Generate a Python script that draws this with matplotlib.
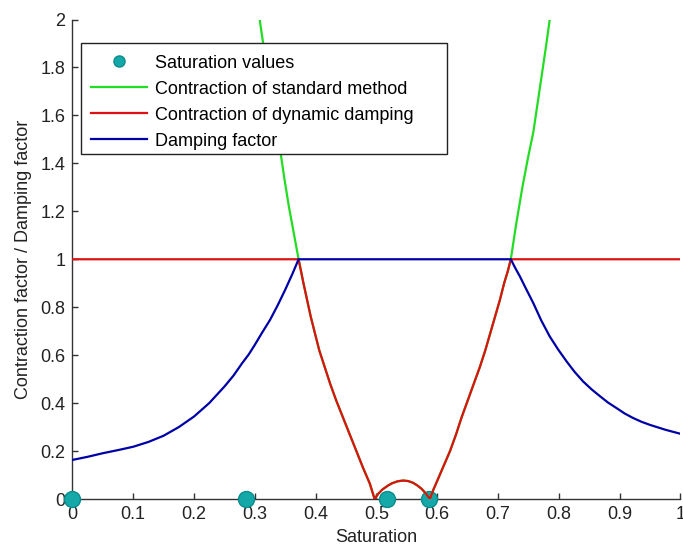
import matplotlib
matplotlib.use("Agg")
import matplotlib.pyplot as plt
from matplotlib.lines import Line2D
from matplotlib.patches import Rectangle

# Saturation sample points (markers)
sat_values = [0.0, 0.285, 0.518, 0.587]
sat_zero = [0.0, 0.0, 0.0, 0.0]

# Contraction of dynamic damping, middle section
mid_x = [0.372, 0.376, 0.380, 0.386, 0.392, 0.399, 0.406, 0.415, 0.424, 0.434,
         0.445, 0.456, 0.467, 0.478, 0.489, 0.497,
         0.503, 0.510, 0.519, 0.526, 0.535, 0.544, 0.552, 0.560, 0.567, 0.574,
         0.581, 0.588,
         0.593, 0.599, 0.610, 0.621, 0.631, 0.640, 0.650, 0.660, 0.670, 0.679,
         0.687, 0.695, 0.703, 0.710, 0.716, 0.721]
mid_y = [1.00, 0.95, 0.90, 0.83, 0.76, 0.69, 0.62, 0.55, 0.48, 0.41,
         0.34, 0.27, 0.20, 0.13, 0.065, 0.0,
         0.022, 0.040, 0.056, 0.066, 0.074, 0.077, 0.075, 0.068, 0.057, 0.043,
         0.024, 0.0,
         0.035, 0.070, 0.135, 0.20, 0.27, 0.34, 0.41, 0.48, 0.55, 0.62,
         0.69, 0.76, 0.83, 0.90, 0.95, 1.00]

# Contraction of standard method (green), outer visible parts
green_left_x = [0.300, 0.308, 0.316, 0.325, 0.334, 0.342, 0.349, 0.356, 0.364]
green_left_y = [2.13, 2.00, 1.86, 1.72, 1.58, 1.45, 1.33, 1.22, 1.11]
green_right_x = [0.730, 0.740, 0.749, 0.758, 0.765, 0.772, 0.779, 0.785, 0.792]
green_right_y = [1.15, 1.30, 1.42, 1.53, 1.65, 1.77, 1.89, 2.00, 2.12]

# Constant part of the red curve
red_left_x = [0.0]
red_left_y = [1.0]
red_right_x = [1.0]
red_right_y = [1.0]

# Damping factor (blue)
blue_x = [0.0, 0.025, 0.05, 0.075, 0.10, 0.125, 0.15, 0.175, 0.20, 0.225, 0.25,
          0.265, 0.279, 0.29, 0.30, 0.312, 0.325, 0.338, 0.35, 0.362, 0.372,
          0.721, 0.728, 0.736, 0.747, 0.758, 0.771, 0.785, 0.799, 0.813, 0.826,
          0.840, 0.854, 0.868, 0.881, 0.895, 0.908, 0.922, 0.936, 0.950, 0.975, 1.0]
blue_y = [0.163, 0.176, 0.191, 0.204, 0.218, 0.238, 0.264, 0.300, 0.344, 0.400, 0.469,
          0.515, 0.566, 0.603, 0.643, 0.694, 0.747, 0.810, 0.873, 0.940, 1.0,
          1.0, 0.965, 0.928, 0.872, 0.817, 0.745, 0.678, 0.623, 0.573, 0.530,
          0.490, 0.457, 0.428, 0.402, 0.379, 0.357, 0.338, 0.322, 0.309, 0.289, 0.272]

x_ticks = [0, 0.1, 0.2, 0.3, 0.4, 0.5, 0.6, 0.7, 0.8, 0.9, 1]
x_tick_labels = ["0", "0.1", "0.2", "0.3", "0.4", "0.5", "0.6", "0.7", "0.8", "0.9", "1"]
y_ticks = [0, 0.2, 0.4, 0.6, 0.8, 1, 1.2, 1.4, 1.6, 1.8, 2]
y_tick_labels = ["0", "0.2", "0.4", "0.6", "0.8", "1", "1.2", "1.4", "1.6", "1.8", "2"]

green_x = green_left_x + mid_x + green_right_x
green_y = green_left_y + mid_y + green_right_y
red_x = red_left_x + mid_x + red_right_x
red_y = red_left_y + mid_y + red_right_y

plt.rcParams['font.family'] = ['Liberation Sans', 'DejaVu Sans']
FS = 13

fig = plt.figure(figsize=(6.83, 5.48), dpi=100)
ax = fig.add_axes([0.106, 0.0894, 0.8903, 0.875])

GREEN = '#22dd22'
RED = '#dd1111'
BLUE = '#0000a8'
TEAL = '#14a8a8'
TEAL_EDGE = '#0c8c8c'

ax.plot(sat_values, sat_zero, linestyle='none', marker='o', markersize=11.5,
        markerfacecolor=TEAL, markeredgecolor=TEAL_EDGE, clip_on=False, zorder=3)
g, = ax.plot(green_x, green_y, color=GREEN, lw=1.6, zorder=4)
r, = ax.plot(red_x, red_y, color=RED, lw=1.6, zorder=5)
b, = ax.plot(blue_x, blue_y, color=BLUE, lw=1.6, zorder=6)

ax.set_xlim(0, 1)
ax.set_ylim(0, 2)
ax.set_xticks(x_ticks)
ax.set_xticklabels(x_tick_labels)
ax.set_yticks(y_ticks)
ax.set_yticklabels(y_tick_labels)
ax.spines['top'].set_visible(False)
ax.spines['right'].set_visible(False)
for s in ('left', 'bottom'):
    ax.spines[s].set_color('#333333')
    ax.spines[s].set_linewidth(1.0)
    ax.spines[s].set_zorder(2)
ax.tick_params(direction='in', length=4, width=1.0, color='#333333',
               labelsize=FS, labelcolor='#222222', pad=5)

ax.set_xlabel('Saturation', fontsize=FS, color='#222222', labelpad=4)
ax.set_ylabel('Contraction factor / Damping factor', fontsize=FS, color='#222222', labelpad=6)

# legend box (MATLAB-style, wider on the right)
box = Rectangle((0.014, 0.7195), 0.6024, 0.2321, transform=ax.transAxes,
                facecolor='white', edgecolor='#222222', linewidth=1.0, zorder=9)
ax.add_patch(box)

h_sc = Line2D([], [], linestyle='none', marker='o', markersize=8,
              markerfacecolor=TEAL, markeredgecolor=TEAL_EDGE)
leg = ax.legend([h_sc, g, r, b],
                ['Saturation values', 'Contraction of standard method',
                 'Contraction of dynamic damping', 'Damping factor'],
                loc='upper left', bbox_to_anchor=(0.014, 0.9474), borderaxespad=0,
                fontsize=FS, frameon=False,
                handlelength=3.1, handletextpad=0.45, labelspacing=0.5,
                borderpad=0.55, numpoints=1)
leg.set_zorder(10)

fig.savefig('out.png', dpi=100)
